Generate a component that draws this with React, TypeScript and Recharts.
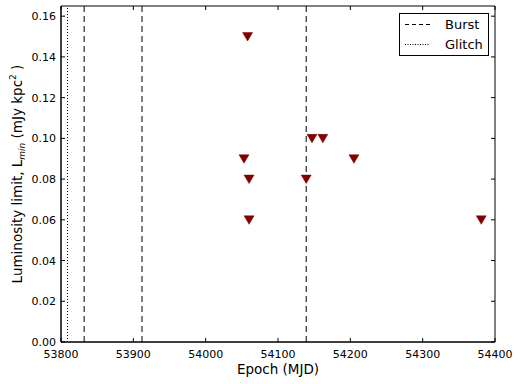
import React from 'react';
import {
  ComposedChart,
  Scatter,
  XAxis,
  YAxis,
  ReferenceLine,
  ReferenceArea,
} from 'recharts';

// upper limits on luminosity per epoch
const epochs = [54058, 54053, 54060, 54060, 54139, 54147, 54162, 54205, 54381];
const limits = [0.15, 0.09, 0.08, 0.06, 0.08, 0.1, 0.1, 0.09, 0.06];

const burstEpochs = [53832, 53912, 54139];
const glitchEpochs = [53809];

const xTicks = [53800, 53900, 54000, 54100, 54200, 54300, 54400];
const yTicks = [0, 0.02, 0.04, 0.06, 0.08, 0.1, 0.12, 0.14, 0.16];

const points = epochs.map((x, i) => ({ x, y: limits[i] }));

const FONT = '"DejaVu Sans", sans-serif';
const W = 520;
const H = 384;
const PLOT = { left: 61, right: 495, top: 6, bottom: 342 };
const MARKER = '#800000';

const Triangle = (props: any) => {
  const { cx, cy } = props;
  if (cx == null || cy == null) return null;
  return (
    <path
      d={`M${cx - 5},${cy - 4} L${cx + 5},${cy - 4} L${cx},${cy + 4.5} Z`}
      fill={MARKER}
      stroke={MARKER}
      strokeWidth={0.5}
    />
  );
};

const XTick = (props: any) => {
  const { x, payload } = props;
  return (
    <g>
      <line x1={x} x2={x} y1={PLOT.bottom} y2={PLOT.bottom - 4} stroke="#000" />
      <line x1={x} x2={x} y1={PLOT.top} y2={PLOT.top + 4} stroke="#000" />
      <text x={x} y={PLOT.bottom + 16} textAnchor="middle" fontSize={11} fontFamily={FONT} fill="#000">
        {payload.value}
      </text>
    </g>
  );
};

const YTick = (props: any) => {
  const { y, payload } = props;
  return (
    <g>
      <line x1={PLOT.left} x2={PLOT.left + 4} y1={y} y2={y} stroke="#000" />
      <line x1={PLOT.right} x2={PLOT.right - 4} y1={y} y2={y} stroke="#000" />
      <text x={PLOT.left - 5} y={y + 4} textAnchor="end" fontSize={11} fontFamily={FONT} fill="#000">
        {payload.value.toFixed(2)}
      </text>
    </g>
  );
};

const legendItems = [
  { label: 'Burst', dash: '4 3' },
  { label: 'Glitch', dash: '1 1.5' },
];

const LegendBox = ({ x, y }: { x: number; y: number }) => (
  <g transform={`translate(${x}, ${y})`}>
    <rect x={0.5} y={0.5} width={89} height={42} fill="#fff" stroke="#000" />
    {legendItems.map((it, i) => (
      <g key={it.label}>
        <line x1={6} x2={31} y1={11.5 + i * 20} y2={11.5 + i * 20} stroke="#000" strokeDasharray={it.dash} />
        <text x={46} y={16 + i * 20} fontSize={13} fontFamily={FONT} fill="#000">
          {it.label}
        </text>
      </g>
    ))}
  </g>
);

export default function App() {
  return (
    <div style={{ position: 'absolute', left: 0, top: 0, width: W, height: H, background: '#fff' }}>
      <ComposedChart
        width={W}
        height={H}
        data={points}
        margin={{ top: PLOT.top, right: W - PLOT.right, bottom: 0, left: 0 }}
      >
        <XAxis
          type="number"
          dataKey="x"
          domain={[53800, 54400]}
          ticks={xTicks}
          tick={<XTick />}
          tickLine={false}
          axisLine={{ stroke: '#000' }}
          height={H - PLOT.bottom}
          interval={0}
        />
        <YAxis
          type="number"
          dataKey="y"
          domain={[0, 0.165]}
          ticks={yTicks}
          tick={<YTick />}
          tickLine={false}
          axisLine={{ stroke: '#000' }}
          width={PLOT.left}
          interval={0}
          allowDataOverflow
        />
        <ReferenceArea
          x1={53800}
          x2={54400}
          y1={0}
          y2={0.165}
          fill="none"
          stroke="#000"
          strokeWidth={1}
          ifOverflow="visible"
        />
        {burstEpochs.map((e) => (
          <ReferenceLine key={'b' + e} x={e} stroke="#000" strokeDasharray="6 4" />
        ))}
        {glitchEpochs.map((e) => (
          <ReferenceLine key={'g' + e} x={e} stroke="#000" strokeDasharray="1 2" />
        ))}
        <Scatter dataKey="y" shape={<Triangle />} isAnimationActive={false} />
        <LegendBox x={399} y={13} />
        <text
          x={(PLOT.left + PLOT.right) / 2}
          y={374}
          textAnchor="middle"
          fontSize={13.5}
          fontFamily={FONT}
          fill="#000"
        >
          Epoch (MJD)
        </text>
        <text
          transform={`translate(22, ${(PLOT.top + PLOT.bottom) / 2}) rotate(-90)`}
          textAnchor="middle"
          fontSize={13.5}
          fontFamily={FONT}
          fill="#000"
        >
          Luminosity limit, L
          <tspan fontSize={9} fontStyle="italic" dy={3}>min</tspan>
          <tspan dy={-3}> (mJy kpc</tspan>
          <tspan fontSize={9} dy={-6}>2</tspan>
          <tspan dy={6}> )</tspan>
        </text>
      </ComposedChart>
    </div>
  );
}
